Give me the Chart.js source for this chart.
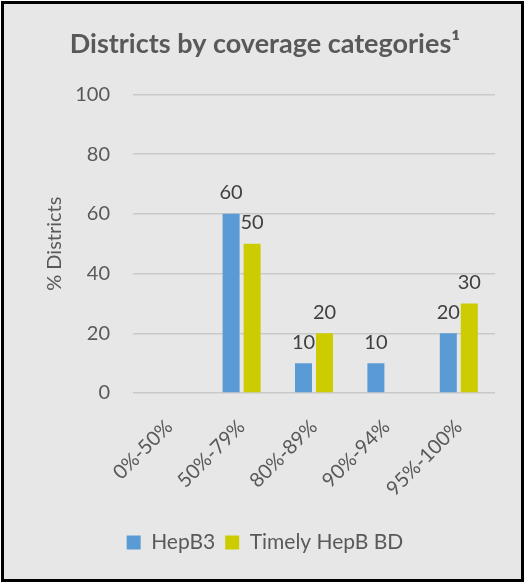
<!DOCTYPE html>
<html>
<head>
<meta charset="utf-8">
<script src="https://cdn.jsdelivr.net/npm/chart.js@4/dist/chart.umd.min.js"></script>
<style>
html,body{margin:0;padding:0;background:#fff;}
#box{position:absolute;left:1px;top:1px;width:517px;height:575px;border:3px solid #000;background:#e7e7e7;}
#c{display:block;}
</style>
</head>
<body>
<div id="box"><canvas id="c" width="517" height="575"></canvas></div>
<script>
const categories = ["0%-50%", "50%-79%", "80%-89%", "90%-94%", "95%-100%"];
const hepB3 = [null, 60, 10, 10, 20];
const timelyHepBBD = [null, 50, 20, null, 30];
const yTicks = [0, 20, 40, 60, 80, 100];

const FONT = "Lato, 'Open Sans', sans-serif";
const GREY = "#595959";

const labelPlugin = {
  id: 'valLabels',
  afterDatasetsDraw(chart) {
    const ctx = chart.ctx;
    ctx.save();
    ctx.font = "20px " + FONT;
    ctx.fillStyle = "#404040";
    ctx.textAlign = "center";
    ctx.textBaseline = "middle";
    chart.data.datasets.forEach((ds, i) => {
      const meta = chart.getDatasetMeta(i);
      meta.data.forEach((bar, j) => {
        const v = ds.data[j];
        if (v === null || v === undefined) return;
        ctx.fillText(String(v), bar.x, bar.y - 21);
      });
    });
    ctx.restore();
  }
};

new Chart(document.getElementById('c'), {
  type: 'bar',
  data: {
    labels: categories,
    datasets: [
      { label: 'HepB3', data: hepB3, backgroundColor: '#5b9bd5', categoryPercentage: 0.58, barPercentage: 0.81 },
      { label: 'Timely HepB BD', data: timelyHepBBD, backgroundColor: '#cccc00', categoryPercentage: 0.58, barPercentage: 0.81 }
    ]
  },
  options: {
    responsive: false,
    animation: false,
    devicePixelRatio: 1,
    layout: { padding: { left: 31, right: 26, top: 0, bottom: 16 } },
    plugins: {
      title: {
        display: true,
        text: 'Districts by coverage categories¹',
        color: GREY,
        font: { family: FONT, size: 27, weight: 'bold' },
        padding: { top: 24, bottom: 34 }
      },
      legend: {
        position: 'bottom',
        labels: {
          color: GREY,
          font: { family: FONT, size: 21 },
          boxWidth: 14, boxHeight: 14,
          padding: 10
        }
      },
      tooltip: { enabled: false }
    },
    scales: {
      x: {
        grid: { display: false },
        border: { display: false },
        ticks: { color: GREY, font: { family: FONT, size: 20 }, maxRotation: 45, minRotation: 45, padding: 14 },
        afterFit(axis) { axis.height = 129; }
      },
      y: {
        min: 0, max: 100,
        afterBuildTicks(axis) { axis.ticks = yTicks.map(v => ({ value: v })); },
        grid: { color: '#c9c9c9', lineWidth: 1.5, drawTicks: false },
        border: { display: false },
        ticks: { color: GREY, font: { family: FONT, size: 20 }, padding: 23 },
        title: { display: true, text: '% Districts', color: GREY, font: { family: FONT, size: 20 }, padding: 8 },
        afterFit(axis) { axis.width = 98; }
      }
    }
  },
  plugins: [labelPlugin]
});
</script>
</body>
</html>
